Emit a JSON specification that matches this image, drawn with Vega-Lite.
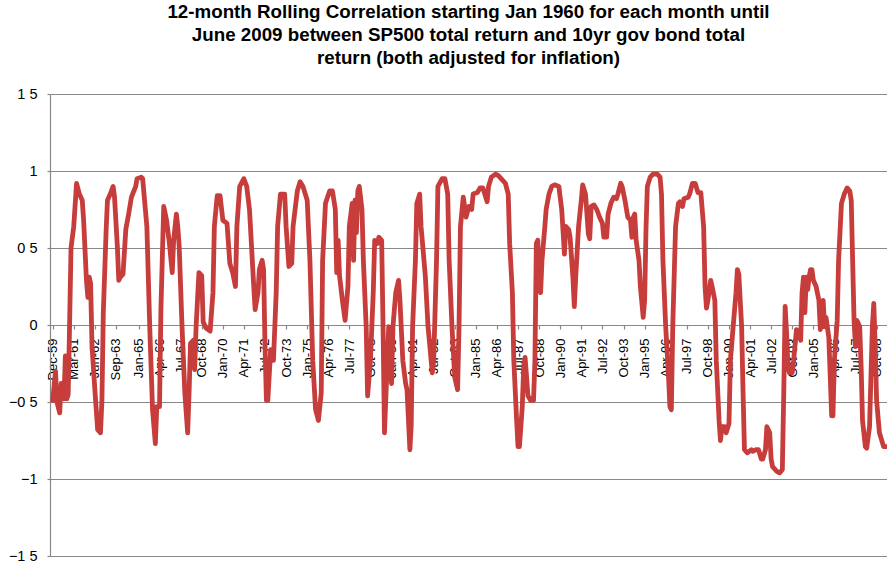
{
 "$schema": "https://vega.github.io/schema/vega-lite/v6.json",
 "width": 837,
 "height": 462,
 "autosize": {"type": "none"},
 "padding": {"left": 50, "top": 94, "right": 0, "bottom": 6},
 "background": "white",
 "title": {
  "text": ["12-month Rolling Correlation starting Jan 1960 for each month until", "June 2009 between SP500 total return and 10yr gov bond total", "return (both adjusted for inflation)"],
  "font": "Liberation Sans", "fontSize": 18.75, "fontWeight": "bold", "color": "#000000",
  "lineHeight": 23.3, "anchor": "middle", "offset": 3, "baseline": "alphabetic"
 },
 "config": {"view": {"stroke": null}, "font": "Liberation Sans"},
 "data": {"values": [
{"date":"1959-12","corr":-0.49},{"date":"1960-02","corr":-0.30},{"date":"1960-03","corr":-0.50},{"date":"1960-05","corr":-0.57},{"date":"1960-06","corr":-0.38},{"date":"1960-08","corr":-0.48},{"date":"1960-09","corr":-0.20},{"date":"1960-10","corr":-0.48},{"date":"1960-11","corr":-0.45},{"date":"1960-12","corr":0.00},
{"date":"1961-01","corr":0.50},{"date":"1961-03","corr":0.64},{"date":"1961-05","corr":0.92},{"date":"1961-07","corr":0.85},{"date":"1961-09","corr":0.81},{"date":"1961-10","corr":0.68},{"date":"1961-12","corr":0.29},
{"date":"1962-01","corr":0.18},{"date":"1962-02","corr":0.31},{"date":"1962-03","corr":0.27},{"date":"1962-04","corr":-0.14},{"date":"1962-06","corr":-0.42},{"date":"1962-08","corr":-0.68},{"date":"1962-10","corr":-0.70},{"date":"1962-11","corr":-0.49},{"date":"1962-12","corr":0.08},
{"date":"1963-02","corr":0.62},{"date":"1963-03","corr":0.81},{"date":"1963-05","corr":0.85},{"date":"1963-07","corr":0.90},{"date":"1963-08","corr":0.83},{"date":"1963-10","corr":0.51},{"date":"1963-11","corr":0.29},{"date":"1963-12","corr":0.31},
{"date":"1964-02","corr":0.33},{"date":"1964-04","corr":0.62},{"date":"1964-06","corr":0.72},{"date":"1964-08","corr":0.83},{"date":"1964-11","corr":0.90},{"date":"1964-12","corr":0.95},
{"date":"1965-03","corr":0.96},{"date":"1965-04","corr":0.95},{"date":"1965-07","corr":0.64},{"date":"1965-09","corr":-0.01},{"date":"1965-11","corr":-0.55},
{"date":"1966-01","corr":-0.77},{"date":"1966-02","corr":-0.53},{"date":"1966-04","corr":-0.53},{"date":"1966-05","corr":0.10},{"date":"1966-07","corr":0.77},{"date":"1966-09","corr":0.68},{"date":"1966-11","corr":0.53},
{"date":"1967-01","corr":0.34},{"date":"1967-02","corr":0.55},{"date":"1967-04","corr":0.72},{"date":"1967-05","corr":0.64},{"date":"1967-06","corr":0.51},{"date":"1967-08","corr":-0.01},{"date":"1967-10","corr":-0.44},{"date":"1967-12","corr":-0.70},
{"date":"1968-01","corr":-0.44},{"date":"1968-02","corr":-0.12},{"date":"1968-04","corr":-0.10},{"date":"1968-05","corr":-0.29},{"date":"1968-06","corr":-0.01},{"date":"1968-08","corr":0.34},{"date":"1968-10","corr":0.32},{"date":"1968-11","corr":0.02},
{"date":"1969-01","corr":-0.02},{"date":"1969-04","corr":-0.04},{"date":"1969-06","corr":0.21},{"date":"1969-07","corr":0.64},{"date":"1969-09","corr":0.84},{"date":"1969-11","corr":0.84},
{"date":"1970-01","corr":0.68},{"date":"1970-04","corr":0.66},{"date":"1970-06","corr":0.40},{"date":"1970-08","corr":0.34},{"date":"1970-10","corr":0.25},{"date":"1970-11","corr":0.64},
{"date":"1971-01","corr":0.90},{"date":"1971-04","corr":0.95},{"date":"1971-06","corr":0.90},{"date":"1971-08","corr":0.75},{"date":"1971-11","corr":0.25},{"date":"1971-12","corr":0.10},
{"date":"1972-02","corr":0.21},{"date":"1972-03","corr":0.36},{"date":"1972-05","corr":0.42},{"date":"1972-06","corr":0.36},{"date":"1972-07","corr":-0.12},{"date":"1972-08","corr":-0.49},{"date":"1972-09","corr":-0.49},{"date":"1972-11","corr":-0.16},{"date":"1972-12","corr":-0.23},
{"date":"1973-01","corr":-0.23},{"date":"1973-03","corr":0.21},{"date":"1973-04","corr":0.64},{"date":"1973-06","corr":0.85},{"date":"1973-09","corr":0.85},{"date":"1973-10","corr":0.64},{"date":"1973-12","corr":0.38},
{"date":"1974-02","corr":0.40},{"date":"1974-03","corr":0.64},{"date":"1974-06","corr":0.87},{"date":"1974-08","corr":0.93},{"date":"1974-10","corr":0.90},
{"date":"1975-01","corr":0.81},{"date":"1975-03","corr":0.42},{"date":"1975-05","corr":-0.23},{"date":"1975-07","corr":-0.55},{"date":"1975-09","corr":-0.62},{"date":"1975-11","corr":-0.44},{"date":"1975-12","corr":0.42},
{"date":"1976-02","corr":0.79},{"date":"1976-05","corr":0.87},{"date":"1976-07","corr":0.87},{"date":"1976-09","corr":0.75},{"date":"1976-10","corr":0.34},{"date":"1976-11","corr":0.55},{"date":"1976-12","corr":0.32},
{"date":"1977-02","corr":0.16},{"date":"1977-04","corr":0.03},{"date":"1977-06","corr":0.25},{"date":"1977-07","corr":0.64},{"date":"1977-09","corr":0.79},{"date":"1977-10","corr":0.42},{"date":"1977-11","corr":0.81},{"date":"1977-12","corr":0.60},
{"date":"1978-01","corr":0.87},{"date":"1978-02","corr":0.90},{"date":"1978-04","corr":0.75},{"date":"1978-05","corr":0.42},{"date":"1978-07","corr":-0.01},{"date":"1978-08","corr":-0.46},{"date":"1978-10","corr":-0.23},{"date":"1978-12","corr":0.21},
{"date":"1979-01","corr":0.55},{"date":"1979-03","corr":0.53},{"date":"1979-04","corr":0.57},{"date":"1979-06","corr":0.55},{"date":"1979-07","corr":-0.01},{"date":"1979-08","corr":-0.70},{"date":"1979-10","corr":-0.23},{"date":"1979-11","corr":-0.01},{"date":"1979-12","corr":-0.26},
{"date":"1980-01","corr":-0.38},{"date":"1980-02","corr":-0.01},{"date":"1980-04","corr":0.21},{"date":"1980-06","corr":0.29},{"date":"1980-07","corr":0.16},{"date":"1980-09","corr":-0.23},{"date":"1980-11","corr":-0.38},{"date":"1980-12","corr":-0.42},
{"date":"1981-02","corr":-0.81},{"date":"1981-03","corr":-0.66},{"date":"1981-04","corr":-0.01},{"date":"1981-06","corr":0.42},{"date":"1981-07","corr":0.79},{"date":"1981-09","corr":0.85},{"date":"1981-10","corr":0.64},
{"date":"1982-01","corr":0.32},{"date":"1982-03","corr":-0.01},{"date":"1982-06","corr":-0.31},{"date":"1982-07","corr":-0.23},{"date":"1982-09","corr":0.42},{"date":"1982-10","corr":0.90},
{"date":"1983-01","corr":0.95},{"date":"1983-03","corr":0.95},{"date":"1983-05","corr":0.85},{"date":"1983-06","corr":0.42},{"date":"1983-08","corr":-0.01},{"date":"1983-10","corr":-0.34},{"date":"1983-12","corr":-0.42},
{"date":"1984-01","corr":-0.01},{"date":"1984-02","corr":0.64},{"date":"1984-04","corr":0.83},{"date":"1984-05","corr":0.77},{"date":"1984-06","corr":0.70},{"date":"1984-08","corr":0.77},{"date":"1984-10","corr":0.75},{"date":"1984-11","corr":0.85},
{"date":"1985-02","corr":0.86},{"date":"1985-04","corr":0.89},{"date":"1985-06","corr":0.89},{"date":"1985-09","corr":0.80},{"date":"1985-10","corr":0.90},{"date":"1985-12","corr":0.96},
{"date":"1986-03","corr":0.98},{"date":"1986-05","corr":0.97},{"date":"1986-07","corr":0.95},{"date":"1986-10","corr":0.92},{"date":"1986-12","corr":0.85},
{"date":"1987-01","corr":0.53},{"date":"1987-03","corr":0.21},{"date":"1987-04","corr":-0.23},{"date":"1987-06","corr":-0.62},{"date":"1987-07","corr":-0.79},{"date":"1987-08","corr":-0.79},{"date":"1987-10","corr":-0.53},{"date":"1987-11","corr":-0.27},{"date":"1987-12","corr":-0.21},
{"date":"1988-01","corr":-0.33},{"date":"1988-02","corr":-0.46},{"date":"1988-04","corr":-0.49},{"date":"1988-06","corr":-0.49},{"date":"1988-07","corr":-0.23},{"date":"1988-08","corr":0.53},{"date":"1988-09","corr":0.55},{"date":"1988-10","corr":0.31},{"date":"1988-11","corr":0.21},{"date":"1988-12","corr":0.42},
{"date":"1989-02","corr":0.64},{"date":"1989-03","corr":0.75},{"date":"1989-05","corr":0.85},{"date":"1989-07","corr":0.90},{"date":"1989-09","corr":0.91},{"date":"1989-12","corr":0.90},
{"date":"1990-02","corr":0.75},{"date":"1990-04","corr":0.46},{"date":"1990-05","corr":0.64},{"date":"1990-07","corr":0.62},{"date":"1990-08","corr":0.57},{"date":"1990-10","corr":0.31},{"date":"1990-11","corr":0.12},{"date":"1990-12","corr":0.31},
{"date":"1991-02","corr":0.64},{"date":"1991-04","corr":0.81},{"date":"1991-05","corr":0.91},{"date":"1991-07","corr":0.85},{"date":"1991-09","corr":0.59},{"date":"1991-10","corr":0.56},{"date":"1991-11","corr":0.77},
{"date":"1992-01","corr":0.78},{"date":"1992-03","corr":0.75},{"date":"1992-05","corr":0.70},{"date":"1992-07","corr":0.66},{"date":"1992-08","corr":0.57},{"date":"1992-10","corr":0.57},{"date":"1992-11","corr":0.72},
{"date":"1993-01","corr":0.79},{"date":"1993-03","corr":0.83},{"date":"1993-05","corr":0.82},{"date":"1993-06","corr":0.85},{"date":"1993-08","corr":0.92},{"date":"1993-09","corr":0.90},{"date":"1993-11","corr":0.81},
{"date":"1994-01","corr":0.70},{"date":"1994-03","corr":0.68},{"date":"1994-04","corr":0.57},{"date":"1994-05","corr":0.70},{"date":"1994-06","corr":0.72},{"date":"1994-07","corr":0.55},{"date":"1994-09","corr":0.42},{"date":"1994-10","corr":0.25},{"date":"1994-12","corr":0.05},
{"date":"1995-01","corr":0.16},{"date":"1995-02","corr":0.64},{"date":"1995-03","corr":0.90},{"date":"1995-05","corr":0.96},{"date":"1995-07","corr":0.98},{"date":"1995-10","corr":0.98},{"date":"1995-12","corr":0.96},
{"date":"1996-01","corr":0.85},{"date":"1996-02","corr":0.42},{"date":"1996-04","corr":-0.01},{"date":"1996-06","corr":-0.33},{"date":"1996-07","corr":-0.53},{"date":"1996-08","corr":-0.55},{"date":"1996-09","corr":-0.01},{"date":"1996-11","corr":0.64},
{"date":"1997-01","corr":0.79},{"date":"1997-02","corr":0.80},{"date":"1997-04","corr":0.77},{"date":"1997-05","corr":0.82},{"date":"1997-08","corr":0.83},{"date":"1997-09","corr":0.85},{"date":"1997-11","corr":0.92},
{"date":"1998-01","corr":0.92},{"date":"1998-03","corr":0.86},{"date":"1998-05","corr":0.86},{"date":"1998-07","corr":0.64},{"date":"1998-08","corr":0.25},{"date":"1998-09","corr":0.11},{"date":"1998-10","corr":0.16},{"date":"1998-12","corr":0.29},
{"date":"1999-01","corr":0.25},{"date":"1999-03","corr":0.16},{"date":"1999-04","corr":-0.23},{"date":"1999-06","corr":-0.62},{"date":"1999-07","corr":-0.75},{"date":"1999-08","corr":-0.66},{"date":"1999-10","corr":-0.66},{"date":"1999-11","corr":-0.70},
{"date":"2000-01","corr":-0.64},{"date":"2000-02","corr":-0.23},{"date":"2000-04","corr":-0.01},{"date":"2000-06","corr":0.21},{"date":"2000-07","corr":0.36},{"date":"2000-08","corr":0.33},{"date":"2000-10","corr":-0.01},{"date":"2000-11","corr":-0.44},{"date":"2000-12","corr":-0.81},
{"date":"2001-02","corr":-0.83},{"date":"2001-05","corr":-0.81},{"date":"2001-06","corr":-0.82},{"date":"2001-08","corr":-0.81},{"date":"2001-10","corr":-0.81},{"date":"2001-12","corr":-0.87},
{"date":"2002-01","corr":-0.87},{"date":"2002-03","corr":-0.81},{"date":"2002-04","corr":-0.66},{"date":"2002-06","corr":-0.70},{"date":"2002-07","corr":-0.87},{"date":"2002-08","corr":-0.92},{"date":"2002-11","corr":-0.95},
{"date":"2003-01","corr":-0.96},{"date":"2003-03","corr":-0.94},{"date":"2003-04","corr":-0.44},{"date":"2003-05","corr":0.12},{"date":"2003-06","corr":-0.05},{"date":"2003-07","corr":-0.27},{"date":"2003-08","corr":-0.31},{"date":"2003-10","corr":-0.31},{"date":"2003-11","corr":-0.23},
{"date":"2004-01","corr":-0.03},{"date":"2004-03","corr":-0.05},{"date":"2004-04","corr":-0.10},{"date":"2004-05","corr":0.21},{"date":"2004-06","corr":0.31},{"date":"2004-07","corr":0.08},{"date":"2004-08","corr":0.31},{"date":"2004-09","corr":0.23},{"date":"2004-10","corr":0.31},{"date":"2004-11","corr":0.36},{"date":"2004-12","corr":0.36},
{"date":"2005-01","corr":0.29},{"date":"2005-03","corr":0.25},{"date":"2005-05","corr":0.16},{"date":"2005-06","corr":-0.03},{"date":"2005-07","corr":0.10},{"date":"2005-08","corr":0.16},{"date":"2005-09","corr":-0.01},{"date":"2005-10","corr":0.05},{"date":"2005-12","corr":-0.08},
{"date":"2006-01","corr":-0.33},{"date":"2006-02","corr":-0.59},{"date":"2006-03","corr":-0.59},{"date":"2006-04","corr":-0.23},{"date":"2006-06","corr":0.03},{"date":"2006-07","corr":0.42},{"date":"2006-09","corr":0.79},{"date":"2006-11","corr":0.85},
{"date":"2007-01","corr":0.89},{"date":"2007-03","corr":0.87},{"date":"2007-04","corr":0.81},{"date":"2007-05","corr":0.42},{"date":"2007-06","corr":0.03},{"date":"2007-07","corr":-0.14},{"date":"2007-08","corr":0.03},{"date":"2007-10","corr":-0.01},{"date":"2007-11","corr":-0.27},{"date":"2007-12","corr":-0.62},
{"date":"2008-02","corr":-0.79},{"date":"2008-03","corr":-0.80},{"date":"2008-05","corr":-0.66},{"date":"2008-06","corr":-0.33},{"date":"2008-07","corr":-0.01},{"date":"2008-08","corr":0.14},{"date":"2008-09","corr":-0.14},{"date":"2008-10","corr":-0.49},{"date":"2008-12","corr":-0.70},
{"date":"2009-03","corr":-0.79},{"date":"2009-05","corr":-0.79}
 ]},
 "mark": {"type": "line", "color": "#C63D3B", "strokeWidth": 4.8, "strokeJoin": "round", "strokeCap": "round"},
 "encoding": {
  "x": {
   "field": "date", "type": "temporal",
   "scale": {"type": "utc", "domain": [{"year": 1959, "month": 10, "date": 4, "utc": true}, {"year": 2009, "month": 5, "date": 14, "utc": true}]},
   "axis": {
    "title": null, "orient": "bottom", "offset": -231,
    "values": [
     {"year":1959,"month":12,"date":1,"utc":true},{"year":1961,"month":3,"date":1,"utc":true},{"year":1962,"month":6,"date":1,"utc":true},{"year":1963,"month":9,"date":1,"utc":true},
     {"year":1965,"month":1,"date":1,"utc":true},{"year":1966,"month":4,"date":1,"utc":true},{"year":1967,"month":7,"date":1,"utc":true},{"year":1968,"month":10,"date":1,"utc":true},
     {"year":1970,"month":1,"date":1,"utc":true},{"year":1971,"month":4,"date":1,"utc":true},{"year":1972,"month":7,"date":1,"utc":true},{"year":1973,"month":10,"date":1,"utc":true},
     {"year":1975,"month":1,"date":1,"utc":true},{"year":1976,"month":4,"date":1,"utc":true},{"year":1977,"month":7,"date":1,"utc":true},{"year":1978,"month":10,"date":1,"utc":true},
     {"year":1980,"month":1,"date":1,"utc":true},{"year":1981,"month":4,"date":1,"utc":true},{"year":1982,"month":7,"date":1,"utc":true},{"year":1983,"month":10,"date":1,"utc":true},
     {"year":1985,"month":1,"date":1,"utc":true},{"year":1986,"month":4,"date":1,"utc":true},{"year":1987,"month":7,"date":1,"utc":true},{"year":1988,"month":10,"date":1,"utc":true},
     {"year":1990,"month":1,"date":1,"utc":true},{"year":1991,"month":4,"date":1,"utc":true},{"year":1992,"month":7,"date":1,"utc":true},{"year":1993,"month":10,"date":1,"utc":true},
     {"year":1995,"month":1,"date":1,"utc":true},{"year":1996,"month":4,"date":1,"utc":true},{"year":1997,"month":7,"date":1,"utc":true},{"year":1998,"month":10,"date":1,"utc":true},
     {"year":2000,"month":1,"date":1,"utc":true},{"year":2001,"month":4,"date":1,"utc":true},{"year":2002,"month":7,"date":1,"utc":true},{"year":2003,"month":10,"date":1,"utc":true},
     {"year":2005,"month":1,"date":1,"utc":true},{"year":2006,"month":4,"date":1,"utc":true},{"year":2007,"month":7,"date":1,"utc":true},{"year":2008,"month":10,"date":1,"utc":true}
    ],
    "format": "%b-%y", "labelAngle": -90, "labelFont": "Liberation Sans", "labelFontSize": 13, "labelColor": "#000000",
    "labelPadding": 9, "tickSize": 4, "tickColor": "#888888", "tickWidth": 1.2,
    "domain": false, "grid": false, "labelOverlap": false, "labelBound": false, "labelFlush": false, "zindex": 0
   }
  },
  "y": {
   "field": "corr", "type": "quantitative",
   "scale": {"domain": [-1.5, 1.5], "nice": false, "zero": false},
   "axis": {
    "title": null, "values": [-1.5, -1, -0.5, 0, 0.5, 1, 1.5],
    "labelExpr": "replace(format(datum.value, '.1~f'), '.', ' ')",
    "labelFont": "Liberation Sans", "labelFontSize": 14.5, "labelColor": "#000000", "labelPadding": 10,
    "tickSize": 3, "tickColor": "#888888", "tickWidth": 1.2,
    "domainColor": "#888888", "domainWidth": 1.2,
    "grid": true, "gridColor": "#888888", "gridWidth": 1.2, "gridOpacity": 1, "zindex": 0
   }
  }
 }
}
